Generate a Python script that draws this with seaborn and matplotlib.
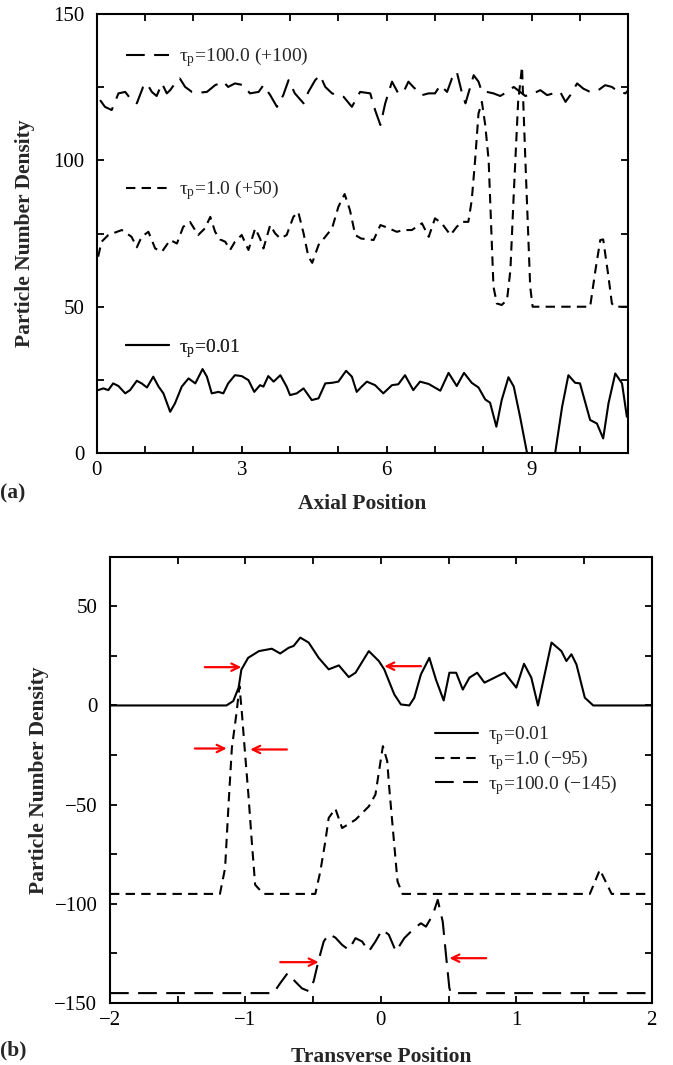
import numpy as np
import pandas as pd
import matplotlib
matplotlib.use("Agg")
import matplotlib.pyplot as plt
from matplotlib.ticker import MultipleLocator
from matplotlib.lines import Line2D
import seaborn as sns

# ---------------- Panel (a) data: axial profiles ----------------
a_x_001 = [0.03, 0.14, 0.24, 0.34, 0.45, 0.59, 0.69, 0.83, 0.93, 1.04, 1.17, 1.28, 1.38, 1.52, 1.62,
           1.76, 1.90, 2.04, 2.19, 2.28, 2.38, 2.52, 2.62, 2.72, 2.86, 3.00, 3.14, 3.26, 3.38, 3.45,
           3.55, 3.66, 3.80, 3.93, 4.00, 4.14, 4.28, 4.45, 4.59, 4.73, 4.87, 5.00, 5.16, 5.28, 5.38,
           5.47, 5.59, 5.76, 5.93, 6.11, 6.24, 6.38, 6.55, 6.69, 6.87, 7.11, 7.28, 7.45, 7.60, 7.76,
           7.90, 8.04, 8.14, 8.27, 8.38, 8.52, 8.63, 8.76, 8.90, 9.05, 9.20, 9.35, 9.49, 9.63, 9.76,
           9.90, 10.00, 10.21, 10.35, 10.48, 10.59, 10.73, 10.87, 10.97]
a_y_001 = [21.5, 22.1, 21.5, 23.8, 22.9, 20.4, 21.5, 24.7, 23.8, 22.4, 26.1, 22.7, 20.4, 14.1, 17.0,
           22.7, 25.5, 23.8, 28.7, 26.1, 20.4, 20.9, 20.4, 23.8, 26.6, 26.3, 24.9, 20.9, 23.2, 22.7,
           26.3, 24.4, 26.6, 22.7, 19.8, 20.4, 22.1, 18.1, 18.7, 23.8, 24.0, 24.4, 28.1, 26.1, 20.9,
           22.5, 24.4, 23.2, 20.4, 23.2, 23.5, 26.6, 21.5, 24.4, 23.6, 21.3, 27.4, 22.9, 27.4, 24.0,
           22.4, 18.3, 17.2, 9.0, 18.1, 25.9, 22.7, 12.4, 0.4, -6.0, -9.0, -6.0, 0.4, 15.8, 26.6,
           24.0, 23.8, 11.3, 10.1, 5.0, 17.0, 27.2, 23.8, 12.4]

a_x_1 = [0.03, 0.10, 0.24, 0.52, 0.72, 0.83, 0.93, 1.07, 1.21, 1.35, 1.52, 1.66, 1.79, 1.93, 2.10,
         2.24, 2.35, 2.45, 2.55, 2.66, 2.76, 2.86, 3.00, 3.14, 3.28, 3.38, 3.45, 3.59, 3.69, 3.80,
         3.93, 4.07, 4.17, 4.28, 4.38, 4.46, 4.59, 4.73, 4.87, 5.00, 5.13, 5.24, 5.35, 5.47, 5.73,
         5.87, 5.97, 6.21, 6.35, 6.52, 6.73, 6.87, 7.00, 7.14, 7.32, 7.45, 7.56, 7.69, 7.76, 7.83,
         7.90, 7.97, 8.04, 8.11, 8.21, 8.28, 8.38, 8.49, 8.56, 8.63, 8.72, 8.80, 8.87, 8.97, 9.02,
         10.21, 10.32, 10.42, 10.48, 10.59, 10.66, 10.72, 11.00]
a_y_1 = [17.1, 22.2, 24.5, 26.2, 23.9, 20.3, 23.9, 25.6, 19.9, 18.8, 22.8, 21.6, 27.3, 29.0, 24.5,
         26.8, 30.7, 25.6, 23.0, 22.2, 19.4, 22.2, 24.5, 19.4, 26.8, 23.3, 19.9, 27.9, 25.1, 23.3,
         24.5, 30.7, 32.4, 25.1, 17.1, 15.0, 21.1, 23.9, 26.8, 34.1, 38.5, 33.0, 24.5, 23.3, 22.8,
         27.9, 27.3, 25.6, 26.2, 26.2, 28.5, 23.9, 30.2, 28.5, 24.5, 27.3, 29.0, 29.0, 36.4, 50.1,
         66.0, 70.0, 62.0, 50.0, 6.8, 1.1, 0.6, 2.3, 12.5, 38.7, 70.0, 82.0, 50.0, 6.8, 0.0,
         0.0, 12.5, 22.8, 23.0, 10.2, 1.1, 0.0, 0.0]
a_offset_1 = 50

a_x_100 = [0.07, 0.17, 0.31, 0.45, 0.59, 0.72, 0.83, 0.96, 1.04, 1.14, 1.24, 1.35, 1.45, 1.52, 1.62,
           1.72, 1.83, 1.97, 2.10, 2.28, 2.45, 2.62, 2.72, 2.86, 3.04, 3.17, 3.35, 3.45, 3.59, 3.73,
           3.86, 3.97, 4.10, 4.28, 4.38, 4.52, 4.62, 4.73, 4.87, 4.97, 5.11, 5.28, 5.45, 5.66, 5.76,
           5.87, 5.97, 6.11, 6.24, 6.35, 6.45, 6.55, 6.73, 6.87, 7.00, 7.11, 7.25, 7.35, 7.45, 7.56,
           7.63, 7.73, 7.80, 7.90, 7.97, 8.07, 8.21, 8.35, 8.49, 8.63, 8.76, 8.87, 9.04, 9.18, 9.32,
           9.45, 9.59, 9.70, 9.80, 9.94, 10.07, 10.21, 10.38, 10.52, 10.66, 10.80, 10.94, 11.00]
a_y_100 = [20.6, 18.3, 17.2, 22.9, 23.4, 20.6, 19.5, 25.1, 26.3, 23.4, 22.0, 26.3, 22.9, 24.0, 26.3,
           28.0, 25.1, 23.4, 23.1, 23.4, 25.7, 26.9, 25.1, 26.3, 25.7, 22.9, 23.4, 25.7, 22.3, 18.3,
           22.3, 27.4, 22.9, 19.5, 23.4, 27.4, 29.1, 25.1, 22.9, 22.3, 21.7, 18.3, 23.4, 22.9, 17.2,
           12.1, 19.5, 26.9, 22.9, 23.4, 26.9, 25.1, 22.3, 22.9, 22.9, 25.7, 23.4, 28.0, 30.3, 22.9,
           19.5, 25.1, 29.1, 26.9, 23.4, 23.4, 22.9, 22.0, 23.4, 25.1, 23.4, 22.0, 22.9, 24.0, 22.3,
           22.9, 23.4, 20.0, 22.3, 26.3, 24.5, 23.4, 24.0, 25.7, 25.1, 23.4, 22.9, 24.0]
a_offset_100 = 100

# ---------------- Panel (b) data: transverse profiles ----------------
b_x_001 = [-2.00, -1.14, -1.09, -1.05, -1.03, -0.98, -0.90, -0.805, -0.743, -0.68, -0.644, -0.595,
           -0.533, -0.459, -0.385, -0.31, -0.237, -0.187, -0.089, -0.015, 0.025, 0.099, 0.148, 0.21,
           0.247, 0.296, 0.358, 0.407, 0.464, 0.506, 0.556, 0.605, 0.654, 0.711, 0.765, 0.913, 1.00,
           1.057, 1.111, 1.16, 1.26, 1.333, 1.37, 1.407, 1.444, 1.506, 1.568, 2.00]
b_y_001 = [0.0, 0.0, 2.2, 9.0, 18.0, 24.0, 27.4, 28.6, 26.2, 29.1, 30.0, 34.2,
           31.7, 24.0, 18.2, 20.2, 14.3, 16.5, 27.4, 22.4, 18.2, 5.6, 0.5, 0.0,
           3.9, 15.7, 24.0, 13.0, 2.5, 16.5, 16.5, 8.0, 14.0, 16.5, 11.5, 16.5, 9.0,
           21.0, 14.0, 0.0, 31.7, 27.4, 22.4, 25.8, 20.7, 3.9, 0.0, 0.0]

b_x_1 = [-2.00, -1.188, -1.15, -1.126, -1.10, -1.064, -1.044, -1.027, -1.002, -0.978, -0.953,
         -0.928, -0.867, -0.484, -0.447, -0.41, -0.385, -0.336, -0.286, -0.187, -0.089, -0.04,
         0.015, 0.047, 0.062, 0.099, 0.123, 0.16, 1.543, 1.617, 1.704, 2.00]
b_y_1 = [0.0, 0.0, 13.0, 43.3, 73.6, 92.1, 104.7, 92.1, 70.3, 50.1, 26.5,
         4.6, 0.0, 0.0, 11.3, 26.5, 38.3, 43.0, 33.2, 37.4, 44.1, 50.1,
         74.5, 66.9, 53.4, 24.8, 6.3, 0.0, 0.0, 12.2, 0.0, 0.0]
b_offset_1 = -95

b_x_100 = [-2.00, -0.793, -0.743, -0.689, -0.632, -0.583, -0.533, -0.496, -0.459, -0.422, -0.385,
           -0.336, -0.286, -0.237, -0.187, -0.138, -0.089, -0.04, 0.01, 0.059, 0.111, 0.173, 0.247,
           0.296, 0.333, 0.383, 0.42, 0.457, 0.481, 0.506, 0.519, 2.00]
b_y_100 = [0.0, 0.0, 5.0, 10.0, 5.8, 2.4, 1.0, 6.0, 16.7, 26.0, 29.7,
           28.0, 24.3, 21.8, 27.7, 26.0, 21.0, 26.0, 32.0, 29.4, 21.0, 27.7, 32.7,
           35.2, 33.5, 39.4, 47.0, 36.0, 19.2, 2.4, 0.0, 0.0]
b_offset_100 = -145

# red arrows in panel (b): (tail_x, tail_y, head_x, head_y)
arrow_tail_x = [-1.30, -1.373, -0.694, -0.743, 0.296, 0.778]
arrow_tail_y = [19.3, -21.7, -22.2, -129.4, 19.8, -127.4]
arrow_head_x = [-1.03, -1.138, -0.965, -0.459, 0.025, 0.506]
arrow_head_y = [19.3, -21.7, -22.2, -129.4, 19.8, -127.4]

# ---------------- style ----------------
sns.set_theme(style="ticks")
plt.rcParams["font.family"] = ["Liberation Serif", "DejaVu Serif"]
plt.rcParams["mathtext.fontset"] = "custom"
plt.rcParams["mathtext.rm"] = "Liberation Serif"
plt.rcParams["mathtext.it"] = "Liberation Serif:italic"
plt.rcParams["axes.linewidth"] = 1.5
plt.rcParams["axes.edgecolor"] = "black"

FS_TICK = 15
FS_LAB = 15.5
FS_LEG = 14
short_dash = (0, (4.5, 3.0))
long_dash = (0, (9.0, 4.5))
LW = 1.5

fig = plt.figure(figsize=(6.73, 10.65), dpi=100)
ax1 = fig.add_axes([0.1437, 0.5746, 0.7899, 0.4122])
ax2 = fig.add_axes([0.1634, 0.0582, 0.8050, 0.4191])

def style_axes(ax):
    ax.tick_params(which="both", direction="in", top=True, right=True,
                   length=5, width=1.3, labelsize=FS_TICK, colors="black")
    ax.tick_params(axis="x", pad=6)
    ax.tick_params(axis="y", pad=9)
    for s in ax.spines.values():
        s.set_visible(True)
        s.set_color("black")
        s.set_linewidth(1.5)
    ax.set_facecolor("white")

# ---------------- panel (a) ----------------
df_a1 = pd.DataFrame({"x": a_x_001, "y": a_y_001})
df_a2 = pd.DataFrame({"x": a_x_1, "y": np.array(a_y_1) + a_offset_1})
df_a3 = pd.DataFrame({"x": a_x_100, "y": np.array(a_y_100) + a_offset_100})
sns.lineplot(data=df_a1, x="x", y="y", ax=ax1, color="black", lw=LW, sort=False)
sns.lineplot(data=df_a2, x="x", y="y", ax=ax1, color="black", lw=LW, linestyle=short_dash, sort=False)
sns.lineplot(data=df_a3, x="x", y="y", ax=ax1, color="black", lw=LW, linestyle=long_dash, sort=False)
ax1.set_xlim(0, 11)
ax1.set_ylim(0, 150)
ax1.xaxis.set_major_locator(MultipleLocator(3))
ax1.xaxis.set_minor_locator(MultipleLocator(1))
ax1.yaxis.set_major_locator(MultipleLocator(50))
ax1.yaxis.set_minor_locator(MultipleLocator(25))
style_axes(ax1)
ax1.set_xlabel("Axial Position", fontsize=FS_LAB, fontweight="bold", labelpad=10)
ax1.set_ylabel("Particle Number Density", fontsize=FS_LAB, fontweight="bold", labelpad=13)

leg_specs = [("τ$_{\\mathrm{p}}$=100.0 (+100)", long_dash, 0.902),
             ("τ$_{\\mathrm{p}}$=1.0 (+50)", short_dash, 0.599),
             ("τ$_{\\mathrm{p}}$=0.01", "-", 0.239)]
for lab, ls, yy in leg_specs:
    h = Line2D([], [], color="black", lw=LW, linestyle=ls)
    lg = ax1.legend([h], [lab], loc="center left", bbox_to_anchor=(0.056, yy),
                    frameon=False, fontsize=FS_LEG, handlelength=2.2, handletextpad=0.5,
                    borderpad=0, borderaxespad=0)
    ax1.add_artist(lg)

fig.text(0.0, 0.537, "(a)", fontsize=FS_LAB, fontweight="bold", ha="left", va="center")

# ---------------- panel (b) ----------------
df_b1 = pd.DataFrame({"x": b_x_001, "y": b_y_001})
df_b2 = pd.DataFrame({"x": b_x_1, "y": np.array(b_y_1) + b_offset_1})
df_b3 = pd.DataFrame({"x": b_x_100, "y": np.array(b_y_100) + b_offset_100})
sns.lineplot(data=df_b1, x="x", y="y", ax=ax2, color="black", lw=LW, sort=False,
             label="τ$_{\\mathrm{p}}$=0.01")
sns.lineplot(data=df_b2, x="x", y="y", ax=ax2, color="black", lw=LW, linestyle=short_dash, sort=False,
             label="τ$_{\\mathrm{p}}$=1.0 (\u221295)")
sns.lineplot(data=df_b3, x="x", y="y", ax=ax2, color="black", lw=LW, linestyle=long_dash, sort=False,
             label="τ$_{\\mathrm{p}}$=100.0 (\u2212145)")
for tx, ty, hx, hy in zip(arrow_tail_x, arrow_tail_y, arrow_head_x, arrow_head_y):
    ax2.annotate("", xy=(hx, hy), xytext=(tx, ty),
                 arrowprops=dict(arrowstyle="->,head_length=0.45,head_width=0.22",
                                 color="red", lw=1.6, shrinkA=0, shrinkB=0))
ax2.set_xlim(-2, 2)
ax2.set_ylim(-150, 75)
ax2.xaxis.set_major_locator(MultipleLocator(1))
ax2.xaxis.set_minor_locator(MultipleLocator(0.5))
ax2.yaxis.set_major_locator(MultipleLocator(50))
ax2.yaxis.set_minor_locator(MultipleLocator(25))
style_axes(ax2)
ax2.set_xlabel("Transverse Position", fontsize=FS_LAB, fontweight="bold", labelpad=12)
ax2.set_ylabel("Particle Number Density", fontsize=FS_LAB, fontweight="bold", labelpad=4)
ax2.legend(loc="center left", bbox_to_anchor=(0.60, 0.543), frameon=False, fontsize=FS_LEG,
           handlelength=2.2, handletextpad=0.5, borderpad=0, borderaxespad=0, labelspacing=0.05)

fig.text(0.0, 0.014, "(b)", fontsize=FS_LAB, fontweight="bold", ha="left", va="center")

fig.savefig("out.png", dpi=100, facecolor="white")
